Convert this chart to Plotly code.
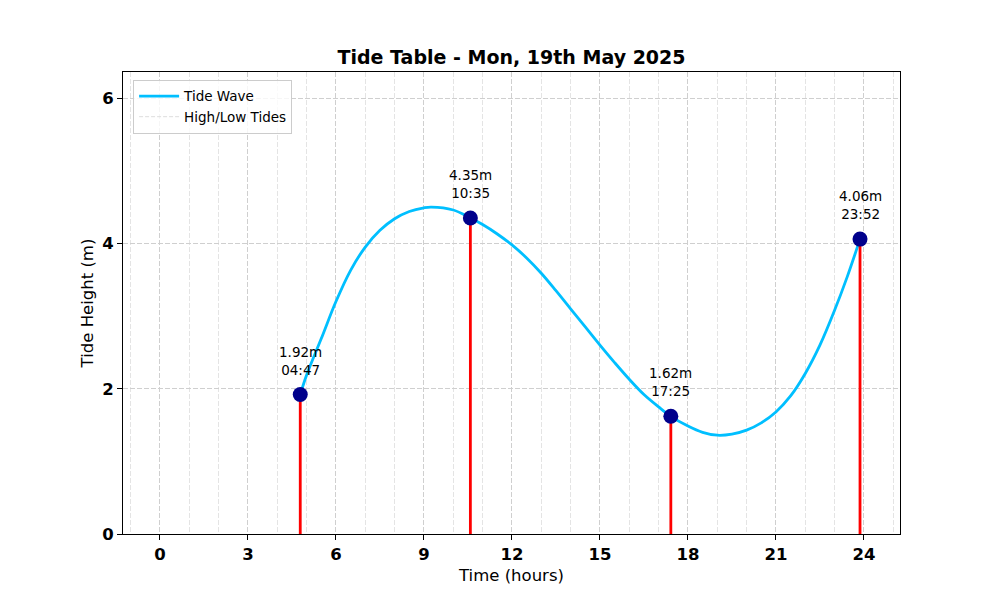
import plotly.graph_objects as go

# Tide extremes
tide_times = [4.783, 10.583, 17.417, 23.867]
tide_heights = [1.92, 4.35, 1.62, 4.06]
tide_labels = ["04:47", "10:35", "17:25", "23:52"]

# Tide wave curve
wave_x = [4.783, 5.0, 5.5, 6.0, 6.5, 7.0, 7.5, 8.0, 8.5, 9.0, 9.25, 10.0, 10.583,
          11.0, 11.5, 12.0, 12.5, 13.0, 13.5, 14.0, 14.5, 15.0, 15.5, 16.0, 16.5, 17.0,
          17.417, 18.0, 18.5, 19.0, 19.5, 20.0, 20.5, 21.0, 21.5, 22.0, 22.5, 23.0, 23.43, 23.867]
wave_y = [1.92, 2.19, 2.69, 3.20, 3.63, 3.95, 4.18, 4.34, 4.44, 4.49, 4.50, 4.46, 4.35,
          4.26, 4.13, 3.98, 3.80, 3.59, 3.35, 3.10, 2.85, 2.60, 2.36, 2.13, 1.92, 1.75,
          1.62, 1.486, 1.40, 1.36, 1.375, 1.43, 1.53, 1.68, 1.90, 2.21, 2.60, 3.08, 3.54, 4.06]

x_ticks = [0, 3, 6, 9, 12, 15, 18, 21, 24]
y_ticks = [0, 2, 4, 6]

FONT = "DejaVu Sans"

fig = go.Figure()

fig.add_trace(go.Scatter(
    x=wave_x, y=wave_y, mode="lines", name="Tide Wave",
    line=dict(color="#00BFFF", width=2.8, shape="spline", smoothing=1.0),
))

stem_x, stem_y = [], []
for t, h in zip(tide_times, tide_heights):
    stem_x += [t, t, None]
    stem_y += [0, h, None]
fig.add_trace(go.Scatter(
    x=stem_x, y=stem_y, mode="lines", showlegend=False,
    line=dict(color="#FF0000", width=2.8),
))

fig.add_trace(go.Scatter(
    x=[None], y=[None], mode="lines", name="High/Low Tides",
    line=dict(color="#dddddd", width=1, dash="4px,2px"),
))

fig.add_trace(go.Scatter(
    x=tide_times, y=tide_heights, mode="markers", showlegend=False,
    marker=dict(color="#00008B", size=15),
))

for t, h, lab in zip(tide_times, tide_heights, tide_labels):
    fig.add_annotation(
        x=t, y=h, text=f"{h:.2f}m<br>{lab}", showarrow=False,
        yanchor="bottom", yshift=15,
        font=dict(family=FONT, size=13.5, color="black"),
    )

fig.update_layout(
    width=1000, height=600,
    margin=dict(l=115, r=108, t=64, b=74),
    paper_bgcolor="white", plot_bgcolor="white",
    title=dict(text="<b>Tide Table - Mon, 19th May 2025</b>", x=0.5035, xanchor="center",
               y=0.918, yanchor="middle",
               font=dict(family=FONT, size=19, color="black")),
    legend=dict(x=0.013, y=0.983, xanchor="left", yanchor="top",
                bgcolor="rgba(255,255,255,0.8)", bordercolor="#cccccc", borderwidth=1,
                tracegroupgap=0, itemwidth=40,
                font=dict(family=FONT, size=13.5, color="black")),
    showlegend=True,
)

fig.update_xaxes(
    range=[-1.26, 25.23], tickmode="array", tickvals=x_ticks, ticktext=[str(v) for v in x_ticks],
    showline=True, linecolor="black", linewidth=1, mirror=True,
    ticks="outside", ticklen=5, tickcolor="black",
    tickfont=dict(family=FONT, size=16.5, color="black", weight="bold"),
    showgrid=True, gridcolor="#cfcfcf", griddash="5px,2px", gridwidth=1,
    minor=dict(tickmode="linear", tick0=0, dtick=1, ticks="", showgrid=True,
               gridcolor="#e4e4e4", griddash="5px,2px", gridwidth=0.8),
    zeroline=False,
    title=dict(text="Time (hours)", font=dict(family=FONT, size=16.5, color="black"), standoff=6),
)
fig.update_yaxes(
    range=[0, 6.36], tickmode="array", tickvals=y_ticks, ticktext=[str(v) for v in y_ticks],
    showline=True, linecolor="black", linewidth=1, mirror=True,
    ticks="outside", ticklen=5, tickcolor="black",
    tickfont=dict(family=FONT, size=16.5, color="black", weight="bold"),
    showgrid=True, gridcolor="#cfcfcf", griddash="5px,2px", gridwidth=1,
    zeroline=False,
    title=dict(text="Tide Height (m)", font=dict(family=FONT, size=16.5, color="black"), standoff=4),
)

fig.write_html("out.html")
